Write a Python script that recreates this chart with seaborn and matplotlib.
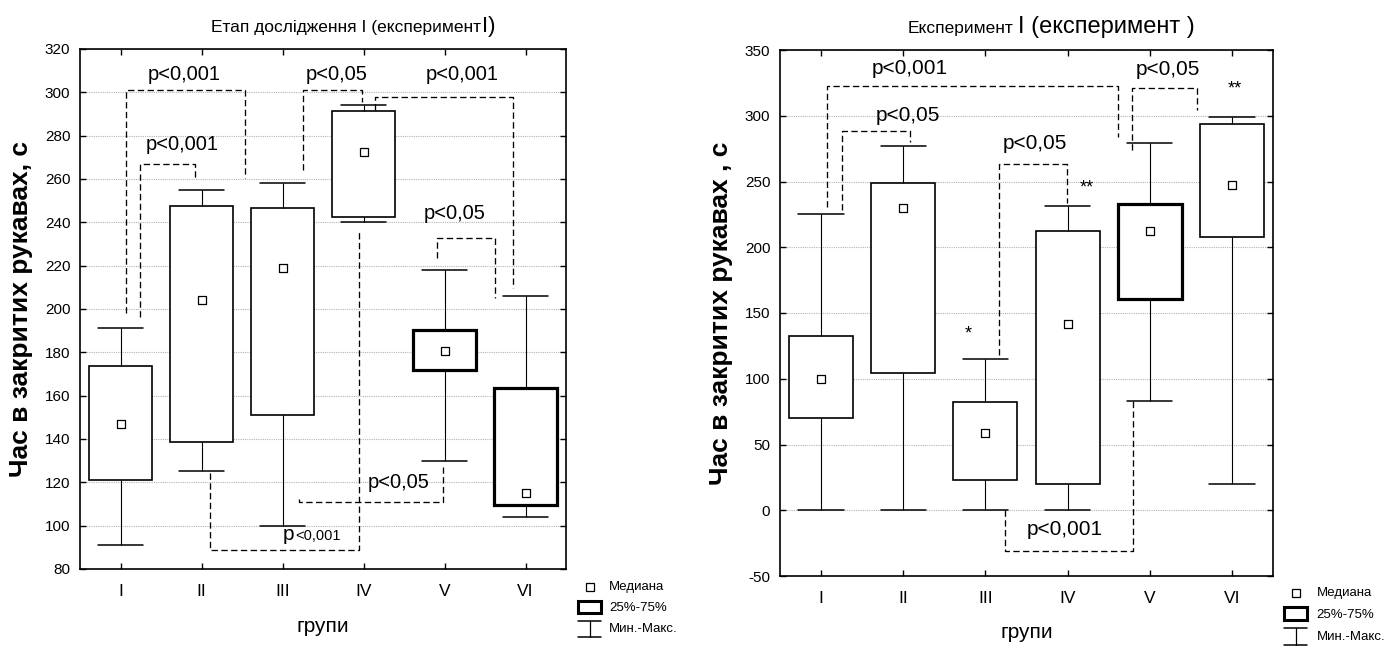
import numpy as np
import pandas as pd
import matplotlib
matplotlib.use("Agg")
import matplotlib.pyplot as plt
from matplotlib.lines import Line2D
from matplotlib.patches import Rectangle
import seaborn as sns

# ---------------------------------------------------------------- data
groups = ["I", "II", "III", "IV", "V", "VI"]

# Етап дослідження І: min, 25%, median, 75%, max per group
stage_min = [91, 125, 100, 240, 130, 104]
stage_q1 = [121, 138.5, 151, 242.5, 172, 109.5]
stage_med = [147, 204, 219, 272.5, 180.5, 115]
stage_q3 = [173.5, 247.5, 246.5, 291.5, 190.5, 163.5]
stage_max = [191, 255, 258, 294, 218, 206]

# Експеримент І
exp_min = [0, 0, 0, 0, 83, 20]
exp_q1 = [70.5, 104, 23, 20, 161, 208]
exp_med = [100, 230, 59, 142, 212, 247]
exp_q3 = [132.5, 248.5, 82.5, 212.5, 233, 294]
exp_max = [225, 277, 115, 231, 279, 299]

# significance brackets: x_start, x_end, y_bar, y_start_end, y_end_end
stage_brackets = [
    (0.065, 1.54, 301, 198, 260.5),
    (0.24, 0.92, 266.8, 196.5, 259.5),
    (2.25, 2.98, 301, 264, 295.7),
    (3.14, 4.85, 298, 292, 209.7),
    (3.91, 4.62, 232.8, 223.5, 205),
    (1.10, 2.95, 88.8, 124.2, 235.7),
    (2.20, 3.98, 110.8, 112.2, 127.2),
]
stage_labels = [
    (0.79, 308, "p<0,001"),
    (0.76, 276, "p<0,001"),
    (2.67, 308, "p<0,05"),
    (4.22, 308, "p<0,001"),
    (4.13, 244, "p<0,05"),
    (3.43, 119.7, "p<0,05"),
]

exp_brackets = [
    (0.07, 3.61, 322.6, 230.8, 283.6),
    (0.25, 1.08, 288.6, 228.3, 280.3),
    (2.17, 2.99, 263.3, 118, 233.4),
    (3.79, 4.58, 320.9, 274, 304.4),
    (2.24, 3.80, -31, 0, 84),
]
exp_labels = [
    (1.08, 335.6, "p<0,001"),
    (1.06, 300, "p<0,05"),
    (2.60, 279, "p<0,05"),
    (4.22, 335, "p<0,05"),
    (2.97, -15, "p<0,001"),
]
exp_marks = [(1.79, 134, "*"), (3.24, 245, "**"), (5.03, 320, "**")]

# ---------------------------------------------------------------- style
sns.set_style("white")
plt.rcParams["font.family"] = ["Liberation Sans", "DejaVu Sans"]
plt.rcParams.update({
    "text.color": "black",
    "axes.labelcolor": "black",
    "xtick.color": "black",
    "ytick.color": "black",
    "axes.unicode_minus": False,
})

W, H = 1386, 646
fig = plt.figure(figsize=(W / 100, H / 100), dpi=100)
ax1 = fig.add_axes([80 / W, 1 - 569 / H, (566 - 80) / W, (569 - 49) / H])
ax2 = fig.add_axes([780 / W, 1 - 576 / H, (1273 - 780) / W, (576 - 50) / H])

DASH = (0, (4.8, 2.6))


def draw_boxes(ax, mins, q1s, meds, q3s, maxs, thick):
    df = pd.DataFrame({
        "група": np.repeat(groups, 5),
        "value": np.column_stack([mins, q1s, meds, q3s, maxs]).ravel(),
    })
    sns.boxplot(data=df, x="група", y="value", order=groups, whis=(0, 100),
                width=0.78, color="white", linecolor="black", linewidth=1.2,
                showfliers=False, medianprops={"visible": False},
                whiskerprops={"linewidth": 0.8}, capprops={"linewidth": 1.1},
                capwidths=0.55, ax=ax, zorder=3)
    for i in thick:
        ax.patches[i].set_linewidth(2.3)
    sns.stripplot(x=groups, y=meds, order=groups, jitter=False, marker="s",
                  size=5.5, color="white", edgecolor="black", linewidth=0.9,
                  ax=ax, zorder=4)


def style_axes(ax, ylim, yticks):
    ax.set_xlim(-0.5, 5.5)
    ax.set_ylim(*ylim)
    ax.set_yticks(yticks)
    ax.set_axisbelow(True)
    ax.yaxis.grid(True, linestyle=(0, (1, 1)), color="#b5b5b5", linewidth=0.8)
    ax.xaxis.grid(False)
    for s in ax.spines.values():
        s.set_visible(True)
        s.set_color("black")
        s.set_linewidth(1.2)
    ax.tick_params(direction="in", length=4, width=1, top=True, right=True,
                   bottom=True, left=True, colors="black")
    ax.tick_params(axis="y", labelsize=11, pad=7)
    ax.tick_params(axis="x", labelsize=12.5, pad=11)


def bracket(ax, x0, x1, y, y0, y1):
    ax.plot([x0, x0, x1, x1], [y0, y, y, y1], linestyle=DASH, linewidth=0.95,
            color="black", zorder=5)


# ---------------------------------------------------------------- left panel
draw_boxes(ax1, stage_min, stage_q1, stage_med, stage_q3, stage_max, thick=[4, 5])
style_axes(ax1, (80, 320), np.arange(80, 321, 20))
for b in stage_brackets:
    bracket(ax1, *b)
for x, y, t in stage_labels:
    ax1.text(x, y, t, ha="center", va="center", fontsize=14.5, zorder=6)
ax1.text(2.15, 93.4, "p", ha="right", va="baseline", fontsize=15, zorder=6)
ax1.text(2.16, 93.4, "<0,001", ha="left", va="baseline", fontsize=10.5, zorder=6)
ax1.set_ylabel("Час в закритих рукавах, с", fontsize=19, fontweight="bold")
ax1.yaxis.set_label_coords(-0.097, 0.5)
ax1.set_xlabel("групи", fontsize=15, va="baseline")
ax1.xaxis.set_label_coords(0.5, -0.1206)

# ---------------------------------------------------------------- right panel
draw_boxes(ax2, exp_min, exp_q1, exp_med, exp_q3, exp_max, thick=[4])
style_axes(ax2, (-50, 350), np.arange(-50, 351, 50))
for b in exp_brackets:
    bracket(ax2, *b)
for x, y, t in exp_labels:
    ax2.text(x, y, t, ha="center", va="center", fontsize=15, zorder=6)
for x, y, t in exp_marks:
    ax2.text(x, y, t, ha="center", va="center", fontsize=13, zorder=6)
ax2.set_ylabel("Час в закритих рукавах , с", fontsize=19, fontweight="bold")
ax2.yaxis.set_label_coords(-0.095, 0.5)
ax2.set_xlabel("групи", fontsize=15, va="baseline")
ax2.xaxis.set_label_coords(0.5, -0.1184)

# ---------------------------------------------------------------- titles
fig.text(481 / W, 1 - 32 / H, "Етап дослідження І (експеримент", ha="right",
         va="baseline", fontsize=12.5)
fig.text(482 / W, 1 - 32 / H, "І)", ha="left", va="baseline", fontsize=16)
fig.text(1013 / W, 1 - 33 / H, "Експеримент", ha="right", va="baseline",
         fontsize=12.5)
fig.text(1018 / W, 1 - 33 / H, "І (експеримент )", ha="left", va="baseline",
         fontsize=17)


# ---------------------------------------------------------------- legends
def legend_key(x0, x1, y_med, y_box, y_wh, x_text):
    xc = (x0 + x1) / 2
    fig.add_artist(Line2D([xc / W], [1 - y_med / H], marker="s",
                          markersize=5.5, markerfacecolor="white",
                          markeredgecolor="black", markeredgewidth=0.9,
                          linestyle="none"))
    fig.add_artist(Rectangle((x0 / W, 1 - y_box[1] / H), (x1 - x0) / W,
                             (y_box[1] - y_box[0]) / H, facecolor="white",
                             edgecolor="black", linewidth=2.2))
    for yy in y_wh:
        fig.add_artist(Line2D([x0 / W, x1 / W], [1 - yy / H, 1 - yy / H],
                              color="black", linewidth=1.1))
    fig.add_artist(Line2D([xc / W, xc / W], [1 - y_wh[0] / H, 1 - y_wh[1] / H],
                          color="black", linewidth=0.9))
    texts = ["Медиана", "25%-75%", "Мин.-Макс."]
    ys = [y_med, (y_box[0] + y_box[1]) / 2 + 1, (y_wh[0] + y_wh[1]) / 2]
    for t, yy in zip(texts, ys):
        fig.text(x_text / W, 1 - yy / H, t, ha="left", va="center", fontsize=9.5)


legend_key(578.3, 601, 587.3, (600.7, 613.3), (621, 637), 609)
legend_key(1284.3, 1306.7, 593.3, (607.3, 620), (628.3, 645), 1316.7)

fig.savefig("out.png", dpi=100)
